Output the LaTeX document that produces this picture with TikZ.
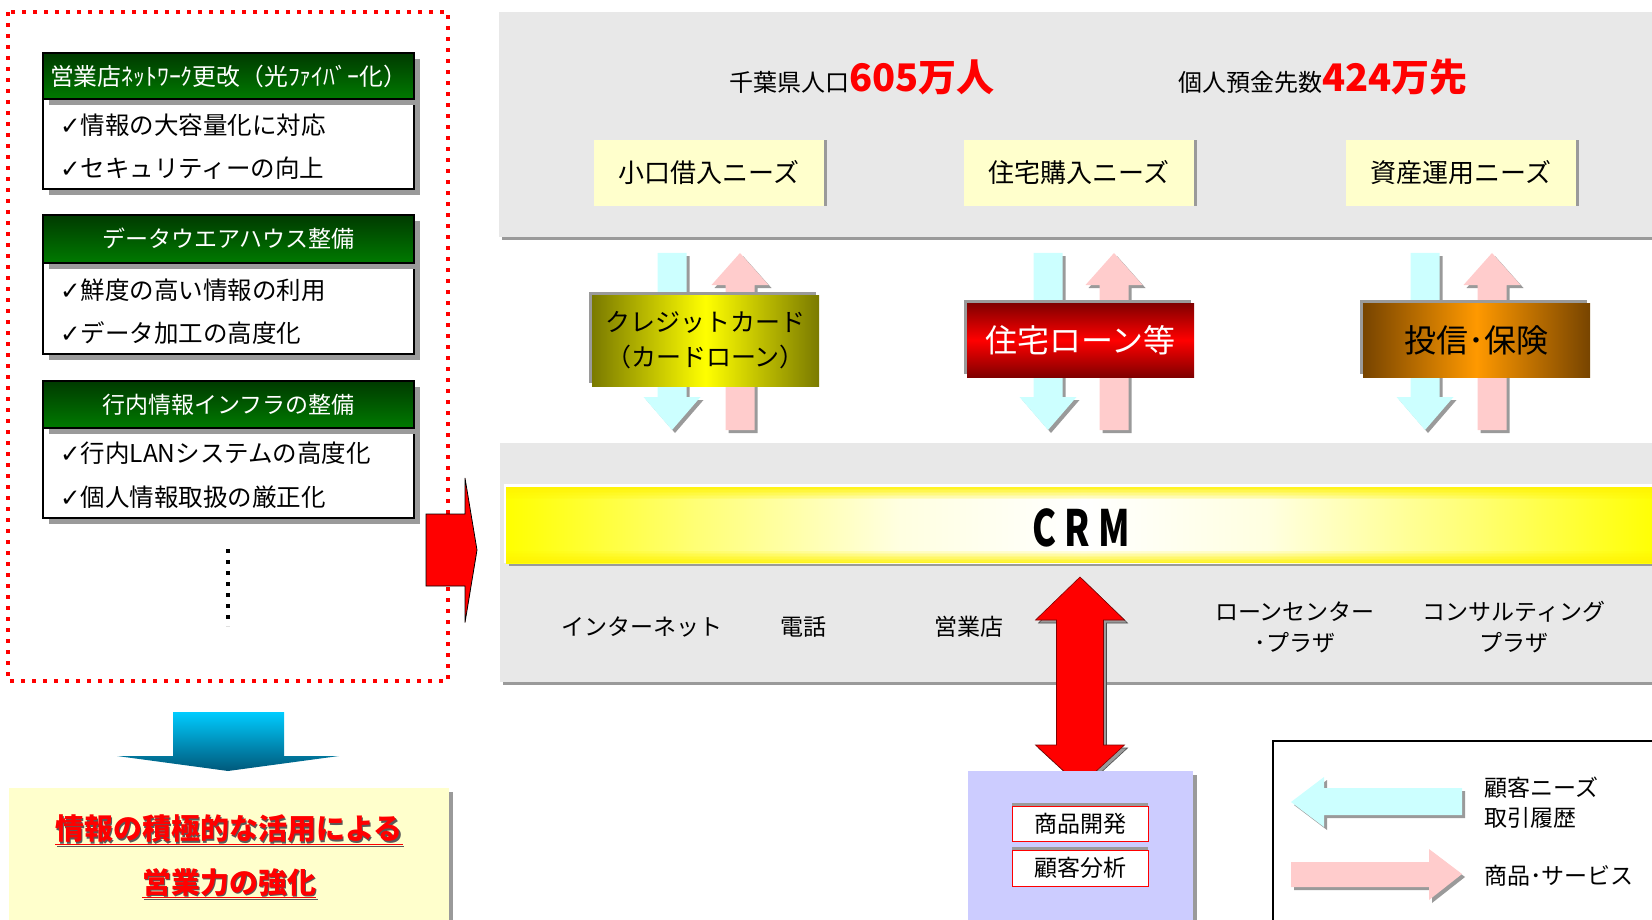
\documentclass[tikz,border=0pt]{standalone}
\usepackage{fontspec}
\setmainfont{Noto Sans CJK JP}
\newfontfamily\symfont{DejaVu Sans}
\usepackage{graphicx}
\usetikzlibrary{shadows}

\definecolor{panelgray}{HTML}{E8E8E8}
\definecolor{shadegray}{HTML}{9A9A9A}
\definecolor{needyellow}{HTML}{FFFFCC}
\definecolor{needcyan}{HTML}{CCFFFF}
\definecolor{servpink}{HTML}{FFCCCC}
\definecolor{lavender}{HTML}{CCCCFF}
\definecolor{hddark}{HTML}{003A00}
\definecolor{hdgreen}{HTML}{007A00}
\definecolor{olivedk}{HTML}{7A7A00}
\definecolor{reddk}{HTML}{800000}
\definecolor{browndk}{HTML}{774400}
\definecolor{orangemid}{HTML}{FF9900}
\definecolor{bluetop}{HTML}{00CCFF}
\definecolor{bluebot}{HTML}{00587A}

\newcommand{\fs}[1]{\fontsize{#1}{#1}\selectfont}
\newcommand{\chk}{{\symfont ✓}}

\pgfdeclarehorizontalshading{crmshade}{100bp}{color(0bp)=(yellow); color(25bp)=(yellow);
  color(33bp)=(yellow!55); color(42bp)=(yellow!12); color(50bp)=(white); color(58bp)=(yellow!12);
  color(67bp)=(yellow!55); color(75bp)=(yellow); color(100bp)=(yellow)}

\tikzset{
  grayshadow/.style={drop shadow={shadow xshift=#1,shadow yshift=-#1,fill=shadegray,opacity=1}},
  hdbox/.style={draw=black,line width=1.2pt,top color=hddark,bottom color=hdgreen,text=white,
    minimum width=371pt,inner sep=0pt,font=\fs{23},grayshadow=6pt},
  itembox/.style={draw=black,line width=1.2pt,fill=white,minimum width=371pt,inner sep=0pt,grayshadow=6pt},
  item/.style={anchor=west,font=\fs{24.5},inner sep=0pt},
  needbox/.style={fill=needyellow,minimum width=230pt,minimum height=66pt,inner sep=0pt,font=\fs{26},
    drop shadow={shadow xshift=3pt,shadow yshift=0pt,fill=shadegray,opacity=1}},
  prodbox/.style={minimum width=227pt,inner sep=0pt,
    drop shadow={shadow xshift=-3pt,shadow yshift=3pt,fill=shadegray,opacity=1}},
  chan/.style={font=\fontsize{23}{31}\selectfont,align=center,inner sep=0pt},
  unitbox/.style={draw=red,fill=white,minimum width=136pt,inner sep=0pt,font=\fs{23},
    drop shadow={shadow xshift=0pt,shadow yshift=3pt,fill=shadegray,opacity=1}},
  goaltxt/.style={font=\bfseries\fs{29},text=red,inner sep=0pt},
  legtxt/.style={anchor=west,align=left,font=\fontsize{23}{30}\selectfont,inner sep=0pt}
}

\begin{document}
\begin{tikzpicture}[x=1pt,y=-1pt]
\useasboundingbox (0,0) rectangle (1652,920);
\clip (0,0) rectangle (1652,920);

% left: measures
\draw[red,line width=4pt,dash pattern=on 4pt off 7pt] (8,12) rectangle (448,681);
\node[itembox,minimum height=90pt] (b1) at (228.5,144) {};
\node[hdbox,minimum height=46pt,font=\fs{23.8}] (h1) at (228.5,76) {営業店ﾈｯﾄﾜｰｸ更改（光ﾌｧｲﾊﾞｰ化）};
\node[item] (i11) at (60,125) {\chk 情報の大容量化に対応};
\node[item] (i12) at (60,168) {\chk セキュリティーの向上};
\node[itembox,minimum height=91pt] (b2) at (228.5,308.5) {};
\node[hdbox,minimum height=48pt] (h2) at (228.5,239) {データウエアハウス整備};
\node[item] (i21) at (60,290) {\chk 鮮度の高い情報の利用};
\node[item] (i22) at (60,333) {\chk データ加工の高度化};
\node[itembox,minimum height=90pt] (b3) at (228.5,473) {};
\node[hdbox,minimum height=47pt] (h3) at (228.5,404.5) {行内情報インフラの整備};
\node[item] (i31) at (60,453) {\chk 行内LANシステムの高度化};
\node[item] (i32) at (60,497.5) {\chk 個人情報取扱の厳正化};
\coordinate (d1) at (228,549);
\coordinate (d2) at (228,626);
\draw[line width=4pt,dash pattern=on 4pt off 7pt] (d1) -- (d2);

% goal
\shade[top color=bluetop,bottom color=bluebot] (173,712) -- (284,712) -- (284,756) -- (339,756)
  -- (228,771) -- (117,756) -- (173,756) -- cycle;
\fill[shadegray] (13,792) rectangle (453,925);
\fill[needyellow] (9,788) rectangle (449,925);
\node[goaltxt,text=black!65] at (230.5,831.5) {\underline{情報の積極的な活用による}};
\node[goaltxt] (g1) at (229,830) {\underline{情報の積極的な活用による}};
\node[goaltxt,text=black!65] at (230.5,884.5) {\underline{営業力の強化}};
\node[goaltxt] (g2) at (229,883) {\underline{営業力の強化}};

% upper panel: needs
\fill[shadegray] (502,15) rectangle (1660,240);
\fill[panelgray] (499,12) rectangle (1660,237);
\node[anchor=base,inner sep=0pt] (pop) at (862,92)
  {\fs{24}千葉県人口{\bfseries\fs{38}\color{red}605万人}};
\node[anchor=base,inner sep=0pt] (acct) at (1323,92)
  {\fs{24}個人預金先数{\bfseries\fs{38}\color{red}424万先}};
\node[needbox] (n1) at (709,173) {小口借入ニーズ};
\node[needbox] (n2) at (1079,173) {住宅購入ニーズ};
\node[needbox] (n3) at (1461,173) {資産運用ニーズ};

% needs down, services up
\foreach \c/\p in {672/740,1048/1114,1425/1492}{
  \foreach \s/\col in {3pt/shadegray,0pt/needcyan}
    \fill[\col,xshift=\s,yshift=-\s] (\c-14.5,253) -- (\c+14.5,253) -- (\c+14.5,397) -- (\c+28.5,397)
      -- (\c,430) -- (\c-28.5,397) -- (\c-14.5,397) -- cycle;
  \foreach \s/\col in {3pt/shadegray,0pt/servpink}
    \fill[\col,xshift=\s,yshift=-\s] (\p-14.5,430) -- (\p-14.5,285) -- (\p-28.5,285) -- (\p,253)
      -- (\p+28.5,285) -- (\p+14.5,285) -- (\p+14.5,430) -- cycle;
}
\node[prodbox,minimum height=91pt,left color=olivedk,right color=olivedk,middle color=yellow,
  font=\fontsize{25}{35}\selectfont,align=center] (p1) at (705.5,340.5) {クレジットカード\\（カードローン）};
\node[prodbox,minimum height=74pt,top color=reddk,bottom color=reddk,middle color=red,
  text=white,font=\fs{32}] (p2) at (1080.5,340) {住宅ローン等};
\node[prodbox,minimum height=74pt,left color=browndk,right color=browndk,middle color=orangemid,
  font=\fs{32}] (p3) at (1476.5,340) {投信･保険};

% lower panel: CRM and channels
\fill[shadegray] (503,446) rectangle (1660,685);
\fill[panelgray] (500,443) rectangle (1660,682);
\fill[shadegray] (509,490) rectangle (1660,566);
\fill[white] (504,484) rectangle (1660,563);
\shade[shading=crmshade] (506,487) rectangle (1660,563);
\foreach \i [evaluate=\i as \op using 0.85-0.1*\i] in {0,...,7}{
  \fill[yellow,opacity=\op] (506,487+1.5*\i) rectangle (1660,488.5+1.5*\i);
  \fill[yellow,opacity=\op] (506,563-1.5*\i) rectangle (1660,561.5-1.5*\i);
}
\node[font=\bfseries\fs{50},inner sep=0pt] (crm) at (1081,528) {\scalebox{0.72}[1]{C R M}};
\node[chan] (web) at (642,627) {インターネット};
\node[chan] (tel) at (803,627) {電話};
\node[chan] (shop) at (969,627) {営業店};
\node[chan] (loan) at (1295,627.5) {ローンセンター\\･プラザ};
\node[chan] (cons) at (1514,627.5) {コンサルティング\\プラザ};

% arrow into CRM
\draw[fill=red,line width=0.8pt] (426,514) -- (465,514) -- (465,478) -- (477,550) -- (465,622.5)
  -- (465,586) -- (426,586) -- cycle;

% back office
\foreach \s/\col in {3pt/shadegray,0pt/red}
  \filldraw[fill=\col,draw=\col!50!black,line width=0.6pt,xshift=\s,yshift=-\s]
    (1080,577) -- (1124.5,620) -- (1103.5,620) -- (1103.5,745) -- (1124.5,745) -- (1080,786)
    -- (1035.5,745) -- (1056.5,745) -- (1056.5,620) -- (1035.5,620) -- cycle;
\fill[shadegray] (972,775) rectangle (1197,925);
\fill[lavender] (968,771) rectangle (1193,925);
\node[unitbox,minimum height=35pt] (dev) at (1080,823.5) {商品開発};
\node[unitbox,minimum height=36pt] (ana) at (1080,868) {顧客分析};

% legend
\draw[line width=1.2pt] (1273,741) rectangle (1700,960);
\foreach \s/\col in {3pt/shadegray,0pt/needcyan}
  \fill[\col,xshift=\s,yshift=-\s] (1291,802) -- (1324,777) -- (1324,788) -- (1462,788) -- (1462,815)
    -- (1324,815) -- (1324,827) -- cycle;
\foreach \s/\col in {3pt/shadegray,0pt/servpink}
  \fill[\col,xshift=\s,yshift=-\s] (1291,862) -- (1429,862) -- (1429,849) -- (1462,874) -- (1429,900)
    -- (1429,887) -- (1291,887) -- cycle;
\node[legtxt] (l1) at (1484,803) {顧客ニーズ\\取引履歴};
\node[legtxt] (l2) at (1484,876) {商品･サービス};
\end{tikzpicture}
\end{document}
